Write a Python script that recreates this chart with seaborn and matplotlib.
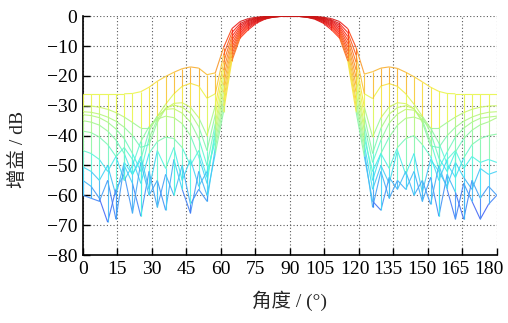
import numpy as np
import pandas as pd
import seaborn as sns
import matplotlib
matplotlib.use("Agg")
from matplotlib import pyplot as plt
from matplotlib.collections import LineCollection
from matplotlib.colors import ListedColormap, Normalize
from matplotlib.transforms import ScaledTranslation

# sample angles (deg), 3.6 deg step
angles = np.linspace(0, 180, 51)

# gain curves (dB), highest sidelobes first
c1 = [-26, -26, -26, -26, -26, -26, -25.9, -25.3, -23.8, -21.8, -20.2, -18.8, -17.6, -17.0, -17.4, -19.6, -19.0,
      -10.5, -4.2, -1.8, -0.8, -0.35, -0.12, -0.03, 0, 0, 0, -0.03, -0.12, -0.35, -0.8, -1.8, -4.2, -10.5,
      -19.4, -18.6, -17.4, -17.0, -17.5, -18.8, -20.3, -22.0, -23.8, -25.2, -25.9, -26, -26, -26, -26, -26, -26]
c2 = [-30, -30.1, -30.5, -31.2, -32.3, -33.8, -35.6, -37.5, -37.5, -33.5, -29.5, -26.0, -23.5, -22.5, -23.4, -27.5, -26.0,
      -13, -5.5, -2.5, -1.2, -0.5, -0.18, -0.05, 0, 0, 0, -0.05, -0.18, -0.5, -1.2, -2.5, -5.5, -13,
      -26.0, -27.6, -23.4, -22.6, -23.5, -26.0, -29.5, -33.5, -37.5, -37.5, -35.6, -33.8, -32.3, -31.2, -30.5, -30.1, -30.0]
c3 = [-32, -32.2, -32.8, -33.8, -35.2, -37.2, -40.0, -44.0, -43.0, -35.5, -31.0, -29.2, -29.0, -30.5, -34.0, -40.0, -30.0,
      -15.5, -6.8, -3.1, -1.5, -0.7, -0.26, -0.08, -0.01, 0, -0.01, -0.08, -0.26, -0.7, -1.5, -3.1, -6.8, -15.5,
      -30.5, -40.5, -34.0, -30.4, -29.0, -29.3, -31.0, -35.5, -43.5, -44.0, -40.0, -37.2, -35.2, -33.8, -32.8, -32.2, -32.0]
c4 = [-33, -33.3, -34.0, -35.5, -37.8, -41.0, -46.0, -52.0, -41.0, -34.5, -30.8, -29.8, -30.5, -32.5, -37.0, -45.0, -33.0,
      -18, -8.0, -3.7, -1.8, -0.85, -0.34, -0.11, -0.02, 0, -0.02, -0.11, -0.34, -0.85, -1.8, -3.7, -8.0, -18,
      -33.5, -46.0, -37.5, -32.8, -30.6, -30.0, -31.0, -34.8, -42.0, -51.0, -45.5, -40.5, -37.5, -35.5, -34.2, -33.8, -33.5]
c5 = [-35, -35.5, -36.5, -38.5, -41.5, -46.0, -53.0, -48.0, -38.5, -33.5, -31.2, -31.0, -32.5, -35.5, -41.0, -50.0, -36.0,
      -20.5, -9.2, -4.3, -2.2, -1.05, -0.43, -0.14, -0.03, 0, -0.03, -0.14, -0.43, -1.05, -2.2, -4.3, -9.2, -20.5,
      -36.5, -49.0, -41.5, -35.8, -32.8, -31.2, -31.5, -33.8, -39.0, -47.5, -52.0, -45.5, -41.0, -38.2, -36.4, -35.4, -34.0]
c6 = [-38.5, -39.0, -40.5, -43.0, -47.0, -55.0, -50.0, -42.0, -37.0, -34.5, -33.5, -34.0, -36.0, -40.0, -47.0, -56.0, -38.0,
      -23, -10.4, -4.9, -2.6, -1.25, -0.52, -0.17, -0.04, 0, -0.04, -0.17, -0.52, -1.25, -2.6, -4.9, -10.4, -23,
      -38.5, -55.0, -46.0, -40.5, -36.5, -34.2, -33.8, -34.8, -37.5, -42.5, -49.5, -54.0, -47.5, -43.0, -41.0, -40.0, -39.5]
c7 = [-45, -46, -48, -52, -47, -44, -48, -56, -46, -42, -40.5, -41, -44, -50, -45, -54, -40,
      -25.5, -11.6, -5.5, -3.0, -1.45, -0.62, -0.21, -0.05, 0, -0.05, -0.21, -0.62, -1.45, -3.0, -5.5, -11.6, -25.5,
      -41, -52, -46, -51, -44, -41, -40, -43, -47, -55, -48, -45, -51, -47, -49, -48, -49]
c8 = [-50.5, -52, -55, -50, -60, -49, -53, -47, -58, -45, -51, -44, -55, -48, -57, -52, -42,
      -28, -12.8, -6.1, -3.4, -1.7, -0.73, -0.25, -0.06, 0, -0.06, -0.25, -0.73, -1.7, -3.4, -6.1, -12.8, -28,
      -43, -58, -50, -56, -45, -53, -46, -59, -48, -52, -57, -49, -54, -58, -51, -53, -52]
c9 = [-60, -61, -62, -55, -68, -50, -56, -67, -52, -64, -53, -60, -50, -63, -58, -62, -44,
      -30, -14, -6.7, -3.9, -2.0, -0.86, -0.3, -0.07, 0, -0.07, -0.3, -0.86, -2.0, -3.9, -6.7, -14, -30,
      -45, -64, -52, -61, -55, -58, -52, -62, -54, -67, -53, -59, -68, -55, -61, -57, -60]
c10 = [-55, -57, -61, -69, -58, -53, -66, -49, -60, -55, -65, -48, -58, -66, -52, -60, -46,
       -32, -15, -7.3, -4.5, -2.3, -1.0, -0.35, -0.08, 0, -0.08, -0.35, -1.0, -2.3, -4.5, -7.3, -15, -32,
       -47, -62, -65, -54, -58, -52, -60, -55, -63, -50, -58, -68, -56, -62, -68, -63, -60]

curves = [c1, c2, c3, c4, c5, c6, c7, c8, c9, c10]
for c in curves:
    assert len(c) == len(angles), len(c)

x_ticks = list(range(0, 181, 15))
y_ticks = list(range(-80, 1, 10))

sns.set_theme(style="ticks")
plt.rcParams['font.family'] = ['Liberation Serif', 'Noto Sans CJK SC']
plt.rcParams['axes.unicode_minus'] = True

# softened jet colormap, colour follows gain like a matlab mesh
t = np.linspace(0, 1, 256)
jet = plt.get_cmap('jet')(t)
w = 0.3 - 0.2 * np.clip((t - 0.65) / 0.2, 0, 1)   # less washing-out for orange/red
jet[:, :3] = jet[:, :3] * (1 - w[:, None]) + 0.88 * w[:, None]
cmap = ListedColormap(jet)
norm = Normalize(-80, 5)

gain = np.array(curves, dtype=float)
df = pd.DataFrame(gain.T, index=angles)

fig = plt.figure(figsize=(5.08, 3.23), dpi=100)
ax = fig.add_axes([0.163, 0.2105, 0.815, 0.7395])

segs, vals = [], []
# constant-row lines (the pattern curves)
for col in df.columns:
    y = df[col].values
    for j in range(len(angles) - 1):
        segs.append([(angles[j], y[j]), (angles[j + 1], y[j + 1])])
        vals.append(0.5 * (y[j] + y[j + 1]))
# constant-angle lines (mesh columns)
for j, a in enumerate(angles):
    col = df.iloc[j].values
    for k in range(len(col) - 1):
        segs.append([(a, col[k]), (a, col[k + 1])])
        vals.append(max(col[k], col[k + 1]))

lc = LineCollection(segs, colors=cmap(norm(np.array(vals))), linewidths=0.8,
                    alpha=0.9, zorder=3)
ax.add_collection(lc)

ax.set_xlim(0, 180)
ax.set_ylim(-80, 0)
ax.set_xticks(x_ticks)
ax.set_yticks(y_ticks)
ax.grid(True, linestyle=(0, (1, 2)), color='0.35', linewidth=0.8, zorder=1)
ax.tick_params(direction='in', length=5, width=1, labelsize=14, colors='black', pad=4)
sns.despine(ax=ax)
for s in ['left', 'bottom']:
    ax.spines[s].set_color('black')
    ax.spines[s].set_linewidth(1.2)
ax.set_facecolor('white')

# three-digit tick labels sit a little left of their ticks, as in the source
shifts = {105: -4, 120: -4, 135: -5, 150: -6, 165: -7, 180: -8}
for val, lab in zip(x_ticks, ax.get_xticklabels()):
    if val in shifts:
        lab.set_transform(lab.get_transform() +
                          ScaledTranslation(shifts[val] / 100, 0, fig.dpi_scale_trans))

ax.set_xlabel('角度 / (°)', fontsize=14)
ax.set_ylabel('增益 / dB', fontsize=14)
ax.xaxis.set_label_coords(0.5, -0.19)
ax.xaxis.label.set_va('center')
ax.yaxis.set_label_coords(-0.157, 0.44)
ax.yaxis.label.set_va('center')

fig.savefig("out.png", dpi=100, facecolor='white')
